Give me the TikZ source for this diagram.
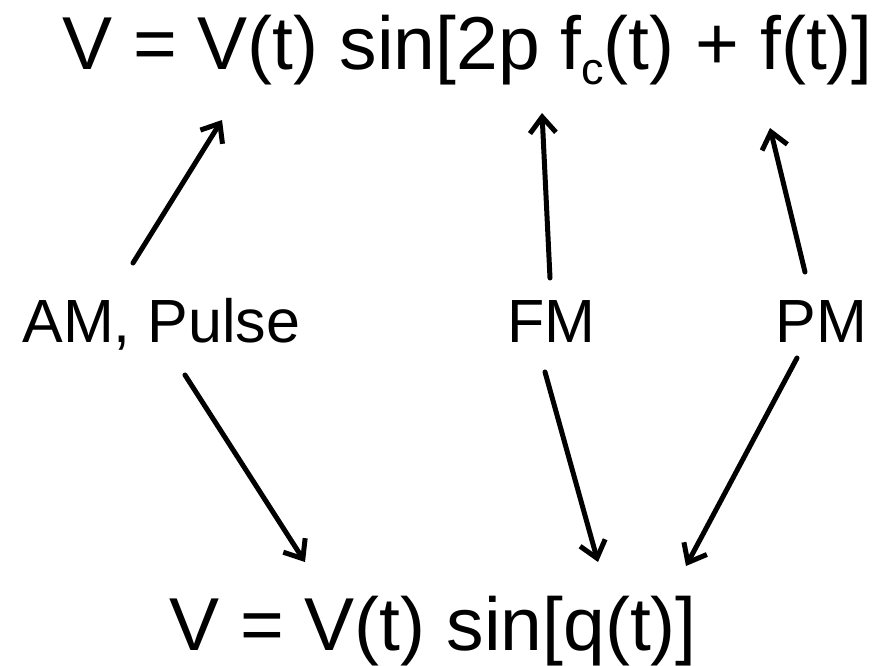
\documentclass[tikz,border=0pt]{standalone}
\usepackage{fontspec}
\setmainfont{Liberation Sans}
\usetikzlibrary{arrows.meta}
\begin{document}
\begin{tikzpicture}[x=1pt, y=1pt, line width=5pt, line cap=round,
    big/.style={inner sep=0pt, anchor=base west, font=\fontsize{75}{80}\selectfont},
    mid/.style={inner sep=0pt, anchor=base west, font=\fontsize{61}{66}\selectfont},
    arr/.style={-{Straight Barb[length=16pt, width=26pt, line width=5pt]}}]
  \useasboundingbox (0,0) rectangle (873,665);
  % formulas
  \node[big] (general) at (60,595) {V = V(t) sin[2p f\raisebox{-15pt}{\fontsize{45}{45}\selectfont c}(t) + f(t)]};
  \node[big] (angle) at (167,15) {V = V(t) sin[q(t)]};
  % modulation types
  \node[mid] (am) at (20,323) {AM, Pulse};
  \node[mid] (fm) at (505,323) {FM};
  \node[mid] (pm) at (773,323) {PM};
  % arrow ends
  \coordinate (am-up) at (133,402);   \coordinate (amp-tip) at (222,545);
  \coordinate (fm-up) at (550,387);   \coordinate (freq-tip) at (542,552);
  \coordinate (pm-up) at (805,393);   \coordinate (phase-tip) at (770,537);
  \coordinate (am-down) at (185,290); \coordinate (q-left) at (305,103);
  \coordinate (fm-down) at (545,293); \coordinate (q-mid) at (598,103);
  \coordinate (pm-down) at (797,307); \coordinate (q-right) at (686,99);
  \draw[arr] (am-up) -- (amp-tip);
  \draw[arr] (fm-up) -- (freq-tip);
  \draw[arr] (pm-up) -- (phase-tip);
  \draw[arr] (am-down) -- (q-left);
  \draw[arr] (fm-down) -- (q-mid);
  \draw[arr] (pm-down) -- (q-right);
\end{tikzpicture}
\end{document}
